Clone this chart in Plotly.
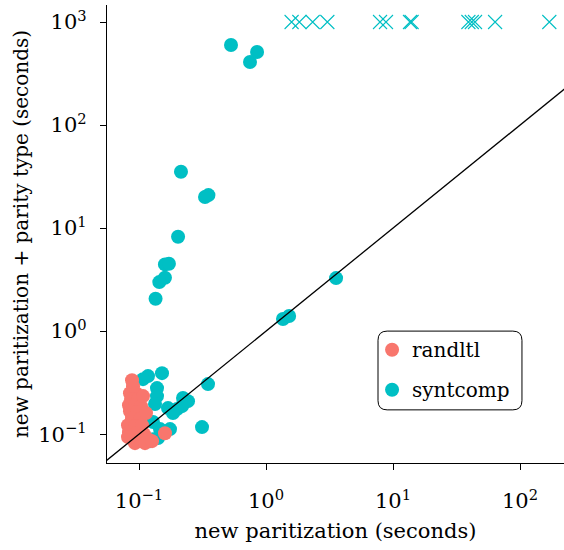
import plotly.graph_objects as go

# ---- data ----
randltl_x = [0.0881, 0.0897, 0.0849, 0.0947, 0.0865, 0.0982, 0.0834, 0.0930, 0.1037, 0.0849,
             0.0965, 0.0881, 0.1018, 0.0819, 0.0930, 0.1056, 0.0834, 0.0947, 0.1095, 0.0881,
             0.1018, 0.1177, 0.0930, 0.1115, 0.1266, 0.1602, 0.0819, 0.1135, 0.1075]
randltl_y = [0.334, 0.292, 0.250, 0.250, 0.219, 0.219, 0.191, 0.191, 0.187, 0.167,
             0.164, 0.143, 0.140, 0.122, 0.120, 0.122, 0.1045, 0.102, 0.100, 0.0894,
             0.0874, 0.0894, 0.0818, 0.0818, 0.0855, 0.102, 0.0936, 0.160, 0.234]

syntcomp_x = [0.1517, 0.1177, 0.1075, 0.1386, 0.1386, 0.1337, 0.1691, 0.2221, 0.2431, 0.2181,
              0.1992, 0.1852, 0.3494, 0.3134, 0.1289, 0.1464, 0.1289, 0.1411, 0.1221, 0.1754,
              0.530, 0.748, 0.850, 0.214, 0.331, 0.352, 0.203, 0.160, 0.172, 0.160, 0.1445, 0.135,
              3.56, 1.36, 1.52]
syntcomp_y = [0.391, 0.366, 0.342, 0.280, 0.234, 0.196, 0.179, 0.224, 0.209, 0.187,
              0.175, 0.160, 0.306, 0.117, 0.131, 0.112, 0.0894, 0.0915, 0.0855, 0.112,
              598, 409, 511, 35.2, 20.0, 20.9, 8.24, 4.44, 4.50, 3.30, 2.99, 2.06,
              3.27, 1.31, 1.40]

# syntcomp instances that timed out (plotted at 1000 s)
timeout_x = [1.59, 1.83, 2.33, 3.04, 7.9, 8.8, 13.6, 14.0, 39.2, 41.7, 44.2, 63.6, 170]
timeout_y = [1000] * len(timeout_x)

diag = [0.01, 10000]

tick_vals = [0.1, 1, 10, 100, 1000]
tick_text = ["10<sup>−1</sup>", "10<sup>0</sup>", "10<sup>1</sup>", "10<sup>2</sup>", "10<sup>3</sup>"]

RED = "#F8766D"
CYAN = "#00BFC4"
FONT = "DejaVu Serif"

fig = go.Figure()
fig.add_trace(go.Scatter(x=syntcomp_x, y=syntcomp_y, mode="markers", name="syntcomp",
                         marker=dict(color=CYAN, size=14, line=dict(width=0)),
                         legendgroup="b", legendrank=2))
fig.add_trace(go.Scatter(x=timeout_x, y=timeout_y, mode="markers", showlegend=False,
                         marker=dict(symbol="x-thin-open", color=CYAN, size=14,
                                     line=dict(width=1.1, color=CYAN))))
fig.add_trace(go.Scatter(x=randltl_x, y=randltl_y, mode="markers", name="randltl",
                         marker=dict(color=RED, size=14, line=dict(width=0)),
                         legendgroup="a", legendrank=1))
fig.add_trace(go.Scatter(x=diag, y=diag, mode="lines", showlegend=False,
                         line=dict(color="black", width=1.3)))

# rounded legend frame (paper coordinates)
x0, x1, y0, y1 = 0.593, 0.908, 0.116, 0.288
r = 0.02
path = (f"M {x0+r},{y1} L {x1-r},{y1} Q {x1},{y1} {x1},{y1-r} L {x1},{y0+r} "
        f"Q {x1},{y0} {x1-r},{y0} L {x0+r},{y0} Q {x0},{y0} {x0},{y0+r} "
        f"L {x0},{y1-r} Q {x0},{y1} {x0+r},{y1} Z")
fig.add_shape(type="path", path=path, xref="paper", yref="paper",
              line=dict(color="black", width=1), fillcolor="rgba(255,255,255,0.8)", layer="below")

axis_common = dict(type="log", showgrid=False, zeroline=False, showline=True,
                   linecolor="black", linewidth=1.3, ticks="outside", ticklen=6,
                   tickwidth=1.2, tickcolor="black", mirror=False, automargin=False,
                   tickvals=tick_vals, ticktext=tick_text,
                   tickfont=dict(family=FONT, size=21, color="black"))

fig.update_layout(
    width=564, height=550,
    margin=dict(l=107, r=0, t=5, b=87),
    plot_bgcolor="white", paper_bgcolor="white",
    xaxis=dict(range=[-1.252, 2.346], ticklabelstandoff=13,
               title=dict(text="new paritization (seconds)",
                          font=dict(family=FONT, size=21, color="black"), standoff=10),
               **axis_common),
    yaxis=dict(range=[-1.28, 3.165], ticklabelstandoff=9,
               title=dict(text="new paritization + parity type (seconds)",
                          font=dict(family=FONT, size=20, color="black"), standoff=4),
               **axis_common),
    legend=dict(x=0.58, y=0.29, xanchor="left", yanchor="top",
                bgcolor="rgba(0,0,0,0)", borderwidth=0, tracegroupgap=11,
                font=dict(family=FONT, size=20, color="black")),
    showlegend=True,
)

fig.write_html("out.html", config={"displayModeBar": False},
               post_script="document.body.style.margin='0';")
